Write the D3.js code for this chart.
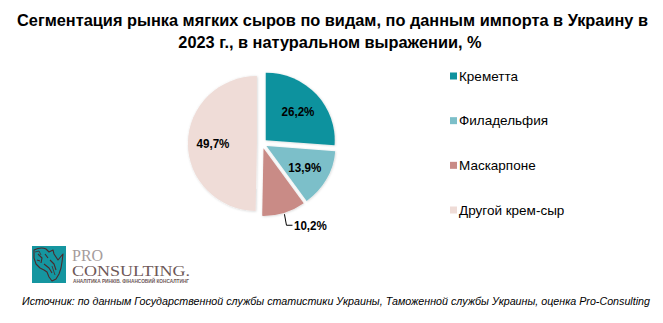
<!DOCTYPE html>
<html><head><meta charset="utf-8">
<script src="https://cdn.jsdelivr.net/npm/d3@7"></script>
<style>html,body{margin:0;padding:0;background:#fff;}svg{display:block;}</style>
</head><body>
<script>
const titleLines = ["Сегментация рынка мягких сыров по видам, по данным импорта в Украину в", "2023 г., в натуральном выражении, %"];
const categories = ["Креметта", "Филадельфия", "Маскарпоне", "Другой крем-сыр"];
const values = [26.2, 13.9, 10.2, 49.7];
const colors = ["#0E929E", "#7CBFC9", "#C98B86", "#EFDCD7"];
const outsideLabel = [false, false, true, false];
const sourceText = "Источник: по данным Государственной службы статистики Украины, Таможенной службы Украины, оценка Pro-Consulting";

const W = 663, H = 323;
const svg = d3.select("body").append("svg").attr("width", W).attr("height", H);
const defs = svg.append("defs");
const f = defs.append("filter").attr("id", "sh").attr("x", "-20%").attr("y", "-20%").attr("width", "140%").attr("height", "140%");
f.append("feDropShadow").attr("dx", 0.5).attr("dy", 0.5).attr("stdDeviation", 1).attr("flood-color", "#000").attr("flood-opacity", 0.18);

// Title
const tg = svg.append("g").attr("font-family", "Liberation Sans, Arial, sans-serif").attr("font-weight", "bold").attr("font-size", 16.5).attr("fill", "#000");
const t1 = tg.append("text").attr("x", 332.5).attr("y", 26).attr("text-anchor", "middle").text(titleLines[0]);
const t2 = tg.append("text").attr("x", 330).attr("y", 48).attr("text-anchor", "middle").text(titleLines[1]);
const l1 = t1.node().getComputedTextLength();
const sc = 631 / l1;
t1.attr("textLength", 631).attr("lengthAdjust", "spacingAndGlyphs");
t2.attr("textLength", t2.node().getComputedTextLength() * sc).attr("lengthAdjust", "spacingAndGlyphs");

// Pie
const cx = 262, cy = 143.6, r = 67.5, xs = 1.022, explode = 5;
const pie = d3.pie().sort(null).value(d => d);
const arcs = pie(values);
const arc = d3.arc().innerRadius(0).outerRadius(r);
const pg = svg.append("g").attr("transform", `translate(${cx},${cy})`);
const fmt = v => d3.format(".1f")(v).replace(".", ",") + "%";
const polar = (a, rad) => [xs * rad * Math.sin(a), -rad * Math.cos(a)];

arcs.forEach((d, i) => {
  const mid = (d.startAngle + d.endAngle) / 2;
  const [ox, oy] = polar(mid, explode);
  pg.append("path")
    .attr("d", arc(d))
    .attr("transform", `translate(${ox},${oy}) scale(${xs},1)`)
    .attr("fill", colors[i])
    .attr("filter", "url(#sh)");
});

const lg = pg.append("g").attr("font-family", "Liberation Sans, Arial, sans-serif").attr("font-weight", "bold").attr("font-size", 13.5).attr("fill", "#000");
arcs.forEach((d, i) => {
  const mid = (d.startAngle + d.endAngle) / 2;
  if (!outsideLabel[i]) {
    const [lx, ly] = polar(mid, 48);
    const tx = lg.append("text").attr("x", lx).attr("y", ly + 5).attr("text-anchor", "middle").text(fmt(values[i]));
    tx.attr("textLength", tx.node().getComputedTextLength() * 0.86).attr("lengthAdjust", "spacingAndGlyphs");
  } else {
    const p0 = polar(mid, r + explode + 1.5);
    const p1 = [p0[0] + 2, p0[1] + 11];
    const p2 = [p1[0] + 6, p1[1]];
    pg.append("path").attr("d", d3.line()([p0, p1, p2])).attr("fill", "none").attr("stroke", "#000").attr("stroke-width", 1);
    const tx = lg.append("text").attr("x", p2[0] + 1.5).attr("y", p2[1] + 5).attr("text-anchor", "start").text(fmt(values[i]));
    tx.attr("textLength", tx.node().getComputedTextLength() * 0.86).attr("lengthAdjust", "spacingAndGlyphs");
  }
});

// Legend
const leg = svg.append("g").attr("font-family", "Liberation Sans, Arial, sans-serif").attr("font-size", 13.5).attr("fill", "#000");
const legY = d3.scalePoint().domain(categories).range([76, 210]);
categories.forEach((c, i) => {
  const y = legY(c);
  leg.append("rect").attr("x", 450).attr("y", y - 3.5).attr("width", 7).attr("height", 7).attr("fill", colors[i]);
  leg.append("text").attr("x", 459).attr("y", y + 4.8).text(c);
});

// Logo
const logo = svg.append("g");
logo.append("rect").attr("x", 32).attr("y", 246).attr("width", 34).attr("height", 37).attr("fill", "#1596A0");
const rh = logo.append("g").attr("transform", "translate(32,246)").attr("fill", "none").attr("stroke", "#4b2a2c").attr("stroke-width", 1.1).attr("stroke-linejoin", "round");
rh.append("path").attr("d", "M2,4 C6,2 10,1 14,3 L17,6 L21,4 L22,8 L26,14 L31,8 L30,16 L29,22 L27,28 L24,33 L20,35 L17,31 L15,26 L12,24 L8,22 L4,18 L2,12 Z");
rh.append("path").attr("d", "M6,8 L10,12 L9,17 M13,8 L16,12 M18,14 L22,18 L24,24 M12,18 L17,22 L20,27 M5,14 L8,15");
rh.append("path").attr("d", "M3,6 L7,5 L9,9 M20,20 L23,29").attr("stroke-width", 0.8);
logo.append("text").attr("x", 72).attr("y", 261).attr("font-family", "Liberation Serif, DejaVu Serif, serif").attr("font-size", 16).attr("fill", "#a59c9c").text("PRO");
logo.append("text").attr("x", 72).attr("y", 276).attr("font-family", "Liberation Serif, DejaVu Serif, serif").attr("font-size", 14).attr("fill", "#6e5858")
  .attr("textLength", 118).attr("lengthAdjust", "spacingAndGlyphs").text("CONSULTING.");
logo.append("text").attr("x", 73).attr("y", 282.5).attr("font-family", "Liberation Sans, Arial, sans-serif").attr("font-weight", "bold").attr("font-size", 4.6).attr("fill", "#6e5858")
  .attr("textLength", 116).attr("lengthAdjust", "spacingAndGlyphs").text("АНАЛІТИКА РИНКІВ. ФІНАНСОВИЙ КОНСАЛТИНГ");

// Source
svg.append("text").attr("x", 22).attr("y", 305).attr("font-family", "Liberation Sans, Arial, sans-serif").attr("font-style", "italic").attr("font-size", 10.5).attr("fill", "#000")
  .attr("textLength", 628).attr("lengthAdjust", "spacingAndGlyphs").text(sourceText);
</script>
</body></html>
